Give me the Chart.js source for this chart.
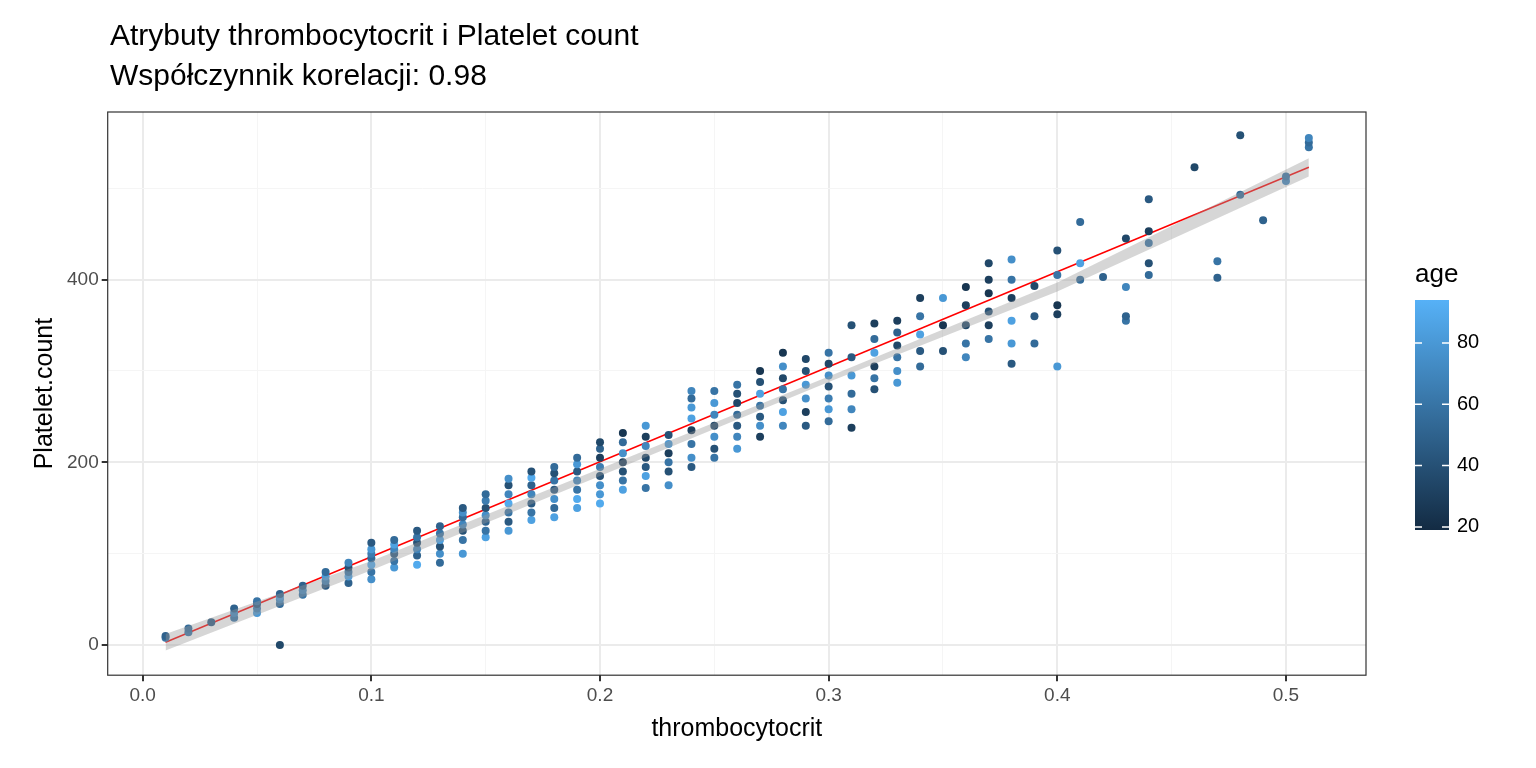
<!DOCTYPE html>
<html>
<head>
<meta charset="utf-8">
<script src="https://cdn.jsdelivr.net/npm/chart.js@4.4.0/dist/chart.umd.min.js"></script>
<style>
  html, body { margin: 0; padding: 0; background: #fff; }
  #wrap { width: 1536px; height: 768px; }
</style>
</head>
<body>
<div id="wrap"><canvas id="chart"></canvas></div>
<script>
// thrombocytocrit values, platelet counts and ages
const thrombocytocrit = [
  0.01,0.01,0.02,0.02,0.03,0.04,0.04,0.04,0.05,0.05,0.05,0.05,
  0.06,0.06,0.06,0.06,0.06,0.07,0.07,0.07,0.08,0.08,0.08,0.08,
  0.09,0.09,0.09,0.09,0.09,0.10,0.10,0.10,0.10,0.10,0.10,0.10,
  0.11,0.11,0.11,0.11,0.11,0.11,0.12,0.12,0.12,0.12,0.12,0.12,
  0.13,0.13,0.13,0.13,0.13,0.13,0.14,0.14,0.14,0.14,0.14,0.14,0.14,
  0.15,0.15,0.15,0.15,0.15,0.15,0.15,0.16,0.16,0.16,0.16,0.16,0.16,0.16,
  0.17,0.17,0.17,0.17,0.17,0.17,0.17,0.18,0.18,0.18,0.18,0.18,0.18,0.18,
  0.19,0.19,0.19,0.19,0.19,0.19,0.19,0.20,0.20,0.20,0.20,0.20,0.20,0.20,0.20,
  0.21,0.21,0.21,0.21,0.21,0.21,0.21,0.22,0.22,0.22,0.22,0.22,0.22,0.22,
  0.23,0.23,0.23,0.23,0.23,0.23,0.24,0.24,0.24,0.24,0.24,0.24,0.24,0.24,
  0.25,0.25,0.25,0.25,0.25,0.25,0.25,0.26,0.26,0.26,0.26,0.26,0.26,0.26,
  0.27,0.27,0.27,0.27,0.27,0.27,0.27,0.28,0.28,0.28,0.28,0.28,0.28,0.28,
  0.29,0.29,0.29,0.29,0.29,0.29,0.30,0.30,0.30,0.30,0.30,0.30,0.30,
  0.31,0.31,0.31,0.31,0.31,0.31,0.32,0.32,0.32,0.32,0.32,0.32,
  0.33,0.33,0.33,0.33,0.33,0.33,0.34,0.34,0.34,0.34,0.34,
  0.35,0.35,0.35,0.36,0.36,0.36,0.36,0.36,0.37,0.37,0.37,0.37,0.37,0.37,
  0.38,0.38,0.38,0.38,0.38,0.38,0.39,0.39,0.39,0.40,0.40,0.40,0.40,0.40,
  0.41,0.41,0.41,0.42,0.43,0.43,0.43,0.43,0.44,0.44,0.44,0.44,0.44,
  0.46,0.47,0.47,0.48,0.48,0.49,0.50,0.50,0.51,0.51,0.51
];
const plateletCount = [
  8,10,14,18,25,30,35,40,35,40,45,48,
  45,50,53,56,0,55,60,65,65,70,75,80,
  68,75,80,85,90,72,80,88,95,100,105,112,
  85,92,100,105,110,115,88,98,105,112,118,125,
  90,100,108,115,122,130,100,115,125,132,140,145,150,
  118,125,135,142,150,158,165,125,135,145,155,165,175,182,
  137,145,155,165,175,183,190,140,150,160,170,180,188,195,
  150,160,170,180,190,198,205,155,165,175,185,195,205,215,222,
  170,180,190,200,210,222,232,172,185,195,205,218,228,240,
  175,190,200,210,220,230,195,205,220,235,248,260,270,278,
  205,215,228,240,252,265,278,215,228,240,252,265,275,285,
  228,240,250,262,275,288,300,240,255,268,280,292,305,320,
  240,255,270,285,300,313,245,258,270,283,295,308,320,
  238,258,275,295,315,350,280,292,305,320,335,352,
  287,300,315,328,342,355,305,322,340,360,380,
  322,350,380,315,330,350,372,392,335,350,365,385,400,418,
  308,330,355,380,400,422,330,360,393,305,362,372,405,432,
  400,418,463,403,355,360,392,445,405,418,440,453,488,
  523,402,420,493,558,465,508,513,545,550,555
];
const age = [
  60,50,60,55,45,60,70,50,80,65,45,60,
  55,70,80,50,35,60,70,50,45,65,80,55,
  50,85,60,40,70,75,60,90,55,65,80,45,
  80,60,45,70,85,55,90,50,70,40,60,45,
  55,75,40,85,60,50,80,60,40,70,55,75,45,
  85,60,50,75,40,65,55,80,45,60,90,70,40,75,
  85,60,45,70,50,90,40,85,55,75,45,60,40,55,
  85,90,60,70,45,80,55,90,80,75,40,65,30,50,35,
  85,60,40,30,75,55,25,60,85,45,35,70,30,80,
  75,40,60,30,80,40,45,75,60,30,85,80,55,70,
  60,40,75,35,70,80,60,80,70,45,55,35,40,60,
  30,75,45,60,85,40,25,70,85,40,60,35,75,25,
  45,30,75,80,40,35,55,80,65,40,75,35,60,
  30,70,55,80,45,40,40,60,30,85,55,30,
  80,75,60,35,50,30,55,45,85,60,30,
  40,25,80,70,60,35,30,25,60,30,40,25,30,35,
  45,80,85,30,60,75,55,45,35,80,30,25,60,40,
  55,85,55,50,60,50,70,35,55,40,60,30,45,
  35,50,60,55,40,50,70,60,60,55,70
];
// linear fit (start/end) and standard error band
const fitX = [0.01, 0.51];
const fitY = [3, 523];
const bandX = [0.01, 0.1, 0.2, 0.3, 0.4, 0.51];
const bandHi = [12, 92, 193, 294, 397, 533];
const bandLo = [-6, 82, 185, 288, 387, 513];
const ageMin = 19, ageMax = 94;

const lowC = [19, 43, 67], highC = [86, 177, 247];
function ageColor(a) {
  const t = Math.max(0, Math.min(1, (a - ageMin) / (ageMax - ageMin)));
  const c = lowC.map((v, i) => Math.round(v + (highC[i] - v) * t));
  return `rgb(${c[0]},${c[1]},${c[2]})`;
}

const points = thrombocytocrit.map((x, i) => ({ x: x, y: plateletCount[i] }));
const FONT = "'Liberation Sans', Arial";

const decor = {
  id: "decor",
  afterDraw(chart) {
    const { ctx, chartArea: a } = chart;
    ctx.save();
    ctx.strokeStyle = "#333";
    ctx.lineWidth = 1.2;
    ctx.strokeRect(a.left, a.top, a.right - a.left, a.bottom - a.top);
    // title
    ctx.fillStyle = "#000";
    ctx.font = "30px " + FONT;
    ctx.textBaseline = "alphabetic";
    ctx.fillText("Atrybuty thrombocytocrit i Platelet count", 110, 45);
    ctx.fillText("Współczynnik korelacji: 0.98", 110, 85);
    // colour bar
    const bx = 1415, bw = 34, top = 300, bot = 530;
    const g = ctx.createLinearGradient(0, bot, 0, top);
    g.addColorStop(0, ageColor(ageMin));
    g.addColorStop(1, ageColor(ageMax));
    ctx.fillStyle = g;
    ctx.fillRect(bx, top, bw, bot - top);
    ctx.font = "26px " + FONT;
    ctx.fillStyle = "#000";
    ctx.fillText("age", 1415, 282);
    ctx.font = "20px " + FONT;
    ctx.textBaseline = "middle";
    [20, 40, 60, 80].forEach(v => {
      const y = bot - (v - ageMin) / (ageMax - ageMin) * (bot - top);
      ctx.strokeStyle = "#fff";
      ctx.lineWidth = 1.5;
      ctx.beginPath();
      ctx.moveTo(bx, y); ctx.lineTo(bx + 7, y);
      ctx.moveTo(bx + bw - 7, y); ctx.lineTo(bx + bw, y);
      ctx.stroke();
      ctx.fillStyle = "#000";
      ctx.fillText(String(v), bx + bw + 8, y);
    });
    ctx.restore();
  }
};

const isMajorX = v => Math.round(v * 100) % 10 === 0;
const isMajorY = v => v % 200 === 0;

new Chart(document.getElementById("chart"), {
  type: "scatter",
  plugins: [decor],
  data: {
    datasets: [
      {
        type: "line",
        data: bandX.map((x, i) => ({ x: x, y: bandLo[i] })),
        borderWidth: 0, pointRadius: 0, fill: false
      },
      {
        type: "line",
        data: bandX.map((x, i) => ({ x: x, y: bandHi[i] })),
        borderWidth: 0, pointRadius: 0,
        fill: "-1", backgroundColor: "rgba(153,153,153,0.4)"
      },
      {
        data: points,
        pointRadius: 4, pointBorderWidth: 0,
        backgroundColor: ctx => ageColor(age[ctx.dataIndex])
      },
      {
        type: "line",
        data: fitX.map((x, i) => ({ x: x, y: fitY[i] })),
        borderColor: "#ff0000", borderWidth: 1.5, pointRadius: 0
      }
    ]
  },
  options: {
    responsive: true,
    maintainAspectRatio: false,
    animation: false,
    layout: { padding: { top: 112, right: 170, left: 26, bottom: 20 } },
    plugins: { legend: { display: false }, tooltip: false },
    scales: {
      x: {
        type: "linear", min: -0.0153, max: 0.535,
        afterBuildTicks: s => { s.ticks = [0,0.05,0.1,0.15,0.2,0.25,0.3,0.35,0.4,0.45,0.5].map(v => ({ value: v })); },
        grid: {
          color: c => (isMajorX(c.tick.value) ? "#ebebeb" : "#f5f5f5"),
          lineWidth: c => (isMajorX(c.tick.value) ? 2 : 1),
          tickColor: c => (isMajorX(c.tick.value) ? "#333" : "rgba(0,0,0,0)"),
          tickLength: 6
        },
        border: { display: false },
        ticks: {
          color: "#4d4d4d", font: { size: 19, family: FONT },
          callback: v => (isMajorX(v) ? v.toFixed(1) : "")
        },
        title: { display: true, text: "thrombocytocrit", color: "#000", font: { size: 25, family: FONT } }
      },
      y: {
        type: "linear", min: -33, max: 583.5,
        afterBuildTicks: s => { s.ticks = [0,100,200,300,400,500].map(v => ({ value: v })); },
        grid: {
          color: c => (isMajorY(c.tick.value) ? "#ebebeb" : "#f5f5f5"),
          lineWidth: c => (isMajorY(c.tick.value) ? 2 : 1),
          tickColor: c => (isMajorY(c.tick.value) ? "#333" : "rgba(0,0,0,0)"),
          tickLength: 6
        },
        border: { display: false },
        ticks: {
          color: "#4d4d4d", font: { size: 19, family: FONT },
          callback: v => (isMajorY(v) ? String(v) : "")
        },
        title: { display: true, text: "Platelet.count", color: "#000", font: { size: 25, family: FONT } }
      }
    }
  }
});
</script>
</body>
</html>
